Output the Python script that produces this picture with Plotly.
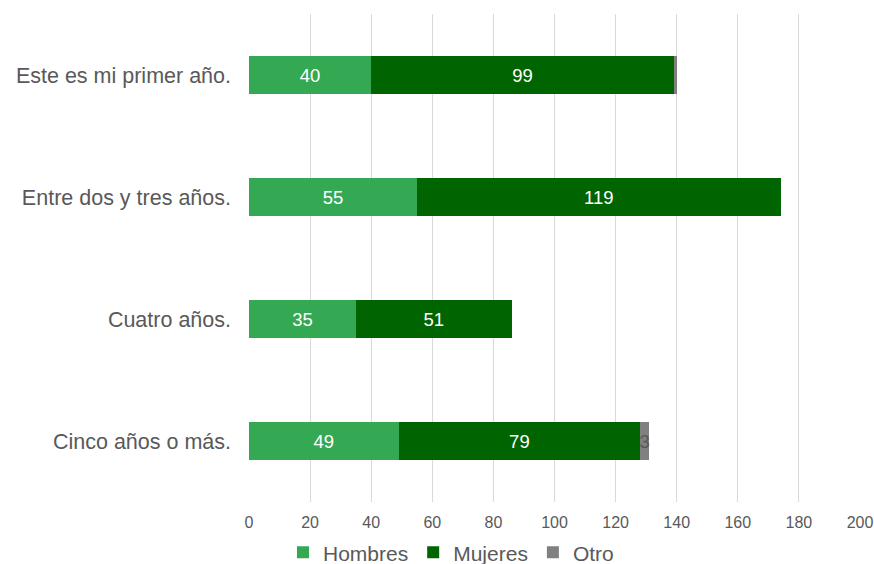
import plotly.graph_objects as go

categories = ["Este es mi primer año.", "Entre dos y tres años.", "Cuatro años.", "Cinco años o más."]
hombres = [40, 55, 35, 49]
mujeres = [99, 119, 51, 79]
otro = [1, 0, 0, 3]
otro_labels = ["", "", "", "3"]
x_ticks = [0, 20, 40, 60, 80, 100, 120, 140, 160, 180, 200]

FONT = "Liberation Sans, Arial, sans-serif"
fig = go.Figure()
fig.add_trace(go.Bar(y=categories, x=hombres, name="Hombres", orientation="h",
                     marker=dict(color="#34A853", line=dict(width=0)),
                     text=[str(v) for v in hombres], textposition="inside", insidetextanchor="middle",
                     textfont=dict(color="white", size=18.5, family=FONT)))
fig.add_trace(go.Bar(y=categories, x=mujeres, name="Mujeres", orientation="h",
                     marker=dict(color="#006400", line=dict(width=0)),
                     text=[str(v) for v in mujeres], textposition="inside", insidetextanchor="middle",
                     textfont=dict(color="white", size=18.5, family=FONT)))
fig.add_trace(go.Bar(y=categories, x=otro, name="Otro", orientation="h",
                     marker=dict(color="#808080", line=dict(width=0)),
                     text=otro_labels, textposition="inside", insidetextanchor="middle",
                     constraintext="none",
                     textfont=dict(color="#595959", size=18.5, family=FONT)))

fig.update_layout(
    barmode="stack", bargap=0.69,
    width=874, height=564,
    margin=dict(l=249, r=14, t=14, b=62, autoexpand=False),
    paper_bgcolor="white", plot_bgcolor="white",
    font=dict(family=FONT, color="#595959"),
    showlegend=True,
    legend=dict(orientation="h", xref="container", yref="container", x=0.516, y=0.02,
                xanchor="center", yanchor="middle", font=dict(size=21, color="#595959"),
                bgcolor="rgba(0,0,0,0)", itemwidth=30, traceorder="normal"),
    xaxis=dict(range=[0, 200], tickvals=x_ticks, showgrid=True, gridcolor="#D9D9D9", gridwidth=1,
               zeroline=False, showline=False, tickfont=dict(size=16, color="#595959"),
               ticks="", ticklabelstandoff=9, fixedrange=True, automargin=False),
    yaxis=dict(autorange="reversed", showgrid=False, showline=False, zeroline=False,
               tickfont=dict(size=21.5, color="#595959"), ticks="", ticklabelstandoff=17,
               automargin=False),
)
fig.write_html("out.html")
